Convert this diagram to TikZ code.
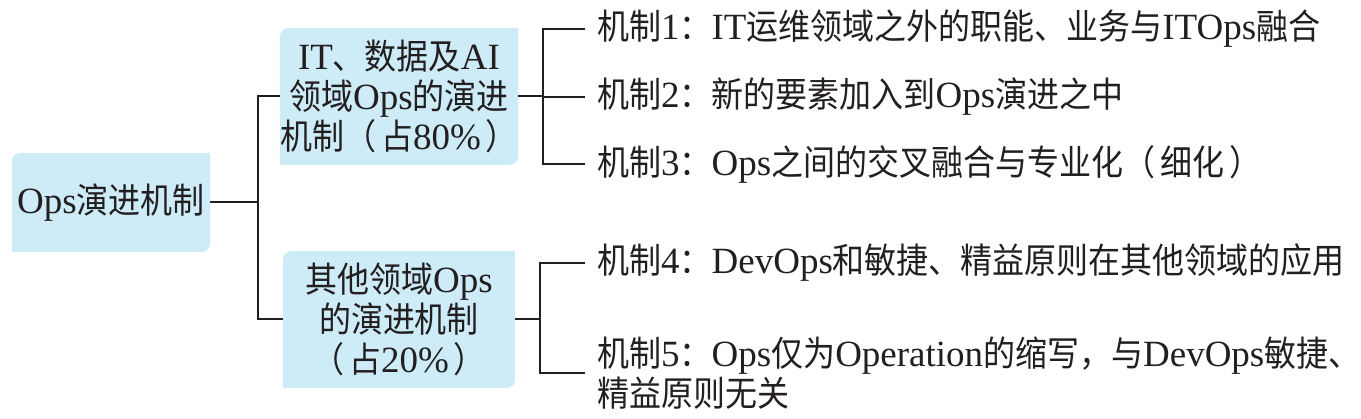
\documentclass[tikz,border=0pt]{standalone}
\usepackage{fontspec}
\setmainfont{Liberation Serif}
\newfontfamily\cjk[Scale=0.95,FakeStretch=0.91]{Noto Sans CJK SC}
\usetikzlibrary{calc,backgrounds}
\definecolor{boxblue}{RGB}{205,236,248}
\definecolor{ink}{RGB}{35,31,32}
\newcommand\pgap{\hspace{5pt}}
\newcommand\leafshape[1]{%
  \fill[boxblue] ($(#1.north west)+(0,-9)$) arc[start angle=180,end angle=90,radius=9]
    -- (#1.north east) -- ($(#1.south east)+(0,9)$) arc[start angle=0,end angle=-90,radius=9]
    -- (#1.south west) -- cycle;}
\begin{document}
\begin{tikzpicture}[x=1pt,y=1pt,
  txt/.style={font=\fontsize{37}{40}\selectfont, text=ink},
  boxnode/.style={txt, align=center, inner sep=0pt},
  leaf/.style={txt, anchor=west, inner xsep=12pt, inner ysep=0pt, align=left},
  conn/.style={draw=ink, line width=2pt}
]
\useasboundingbox (0,0) rectangle (1361,419);

% boxes
\node[boxnode, minimum width=198pt, minimum height=99pt] (root) at (111,216.5)
  {Ops{\cjk 演进机制}};
\node[boxnode, minimum width=232pt, minimum height=137pt] (boxA) at (399,322.5)
  {IT{\cjk 、数据及}AI\\{\cjk 领域}Ops{\cjk 的演进}\\{\cjk 机制（}\pgap{\cjk 占}80\%\pgap{\cjk ）}};
\node[boxnode, minimum width=232pt, minimum height=137pt] (boxB) at (399,99.5)
  {{\cjk 其他领域}Ops\\{\cjk 的演进机制}\\{\cjk （}\pgap{\cjk 占}20\%\pgap{\cjk ）}};

% leaves
\node[leaf] (m1) at (585,390)
  {{\cjk 机制}1{\cjk ：}IT{\cjk 运维领域之外的职能、业务与}ITOps{\cjk 融合}};
\node[leaf] (m2) at (585,322)
  {{\cjk 机制}2{\cjk ：新的要素加入到}Ops{\cjk 演进之中}};
\node[leaf] (m3) at (585,255)
  {{\cjk 机制}3{\cjk ：}Ops{\cjk 之间的交叉融合与专业化（}\pgap{\cjk 细化}\pgap{\cjk ）}};
\node[leaf] (m4) at (585,156)
  {{\cjk 机制}4{\cjk ：}DevOps{\cjk 和敏捷、精益原则在其他领域的应用}};
\node[leaf] (m5) at (585,46)
  {{\cjk 机制}5{\cjk ：}Ops{\cjk 仅为}Operation{\cjk 的缩写，与}DevOps{\cjk 敏捷、}\\{\cjk 精益原则无关}};

\begin{pgfonlayer}{background}
  \leafshape{root}
  \leafshape{boxA}
  \leafshape{boxB}
\end{pgfonlayer}

% connectors
\coordinate (j1) at ($(root.east)+(48,0)$);
\draw[conn] (root.east) -- (j1);
\draw[conn] (boxA.west) -| (j1) |- (boxB.west);

\coordinate (j2) at ($(boxA.east)+(25,0)$);
\draw[conn] (boxA.east) -- (j2);
\draw[conn] (m1.west) -| (j2) |- (m3.west);
\draw[conn] (j2) |- (m2.west);

\coordinate (j3) at ($(boxB.east)+(25,0)$);
\draw[conn] (boxB.east) -- (j3);
\draw[conn] (m4.west) -| (j3) |- (m5.west);
\end{tikzpicture}
\end{document}
